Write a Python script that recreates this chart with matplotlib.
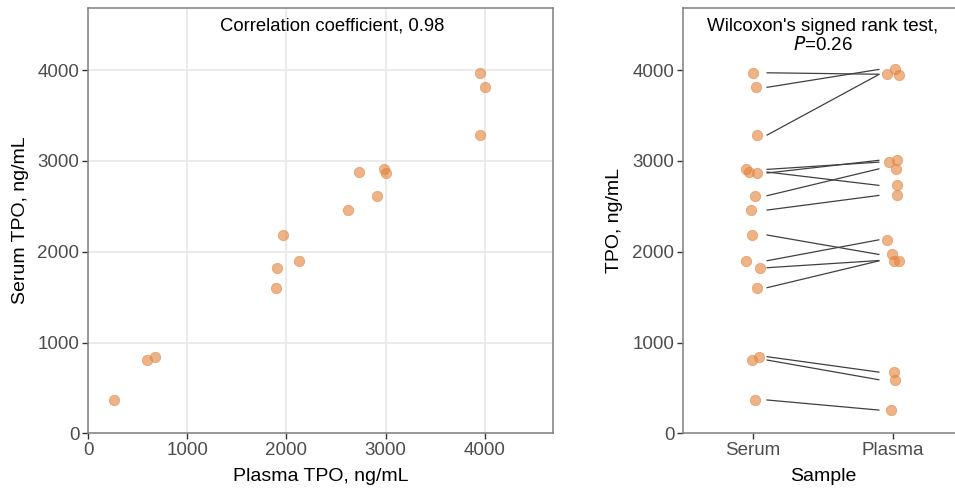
import matplotlib
matplotlib.use("Agg")
import matplotlib.pyplot as plt
import numpy as np

plt.rcParams['font.family'] = ['Liberation Sans', 'DejaVu Sans']

# paired TPO values (ng/mL)
serum = np.array([367, 807, 844, 1604, 1824, 1901, 2184, 2459, 2617, 2878, 2907, 2867, 3971, 3811, 3285])
plasma = np.array([256, 590, 674, 1899, 1903, 2131, 1970, 2620, 2913, 2731, 2987, 3007, 3955, 4008, 3952])

# horizontal jitter of the points in the right panel
serum_jit = np.array([0.01, -0.01, 0.045, 0.026, 0.052, -0.05, -0.005, -0.012, 0.01, -0.033, -0.05, 0.029, 0.0, 0.024, 0.031])
plasma_jit = np.array([-0.014, 0.019, 0.005, 0.005, 0.047, -0.039, -0.005, 0.029, 0.024, 0.033, -0.029, 0.033, -0.039, 0.014, 0.043])

groups = ["Serum", "Plasma"]
ticks = [0, 1000, 2000, 3000, 4000]
lim = 4690

pt_col = "#E2833A"
grey_txt = "#4d4d4d"
frame = "#7f7f7f"

fig = plt.figure(figsize=(9.55, 4.91), dpi=100)

# left: scatter plasma vs serum
ax1 = fig.add_axes([0.0925, 0.1175, 0.579 - 0.0925, 0.9847 - 0.1175])
ax1.scatter(plasma, serum, s=56, color=pt_col, alpha=0.6, edgecolors=pt_col, linewidths=0.6, zorder=3)
ax1.set_xlim(0, lim)
ax1.set_ylim(0, lim)
ax1.set_xticks(ticks)
ax1.set_yticks(ticks)
ax1.grid(True, color="#e6e6e6", linewidth=1.1)
ax1.set_axisbelow(True)
ax1.set_xlabel("Plasma TPO, ng/mL", fontsize=14, labelpad=6)
ax1.set_ylabel("Serum TPO, ng/mL", fontsize=14, labelpad=6)
ax1.text(2460, 4490, "Correlation coefficient, 0.98", ha="center", va="center", fontsize=13.3)

# right: paired values per sample
ax2 = fig.add_axes([0.7155, 0.1175, 1.008 - 0.7155, 0.9847 - 0.1175])
for s, p in zip(serum, plasma):
    ax2.plot([1.1, 1.9], [s, p], color="#404040", linewidth=0.9, zorder=2)
ax2.scatter(1 + serum_jit, serum, s=56, color=pt_col, alpha=0.6, edgecolors=pt_col, linewidths=0.6, zorder=3)
ax2.scatter(2 + plasma_jit, plasma, s=56, color=pt_col, alpha=0.6, edgecolors=pt_col, linewidths=0.6, zorder=3)
ax2.set_xlim(0.5, 2.5)
ax2.set_ylim(0, lim)
ax2.set_xticks([1, 2])
ax2.set_xticklabels(groups)
ax2.set_yticks(ticks)
ax2.set_xlabel("Sample", fontsize=14, labelpad=6)
ax2.set_ylabel("TPO, ng/mL", fontsize=14, labelpad=7)
ax2.text(1.5, 4380, "Wilcoxon's signed rank test,\n$\\it{P}$=0.26", ha="center", va="center",
         fontsize=13.5, linespacing=1.05)

for ax in (ax1, ax2):
    for sp in ax.spines.values():
        sp.set_color(frame)
        sp.set_linewidth(1.1)
    ax.tick_params(axis="both", length=4.5, width=1.0, color="#333333", labelcolor=grey_txt,
                   labelsize=13.5, pad=2)

fig.savefig("out.png", dpi=100)
